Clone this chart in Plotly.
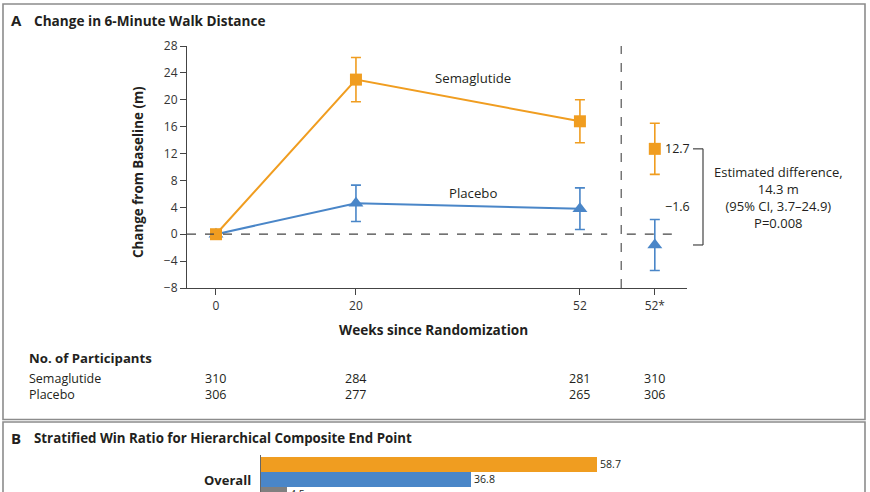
import plotly.graph_objects as go

# ---------------- data ----------------
weeks = [0, 20, 52]
tick_labels = ["0", "20", "52", "52*"]
sema_mean = [0.0, 23.0, 16.8]
sema_err = [0.0, 3.3, 3.2]
plac_mean = [0.0, 4.6, 3.8]
plac_err = [0.0, 2.7, 3.1]
sema_star = 12.7
sema_star_err = 3.8
plac_star = -1.6
plac_star_err = 3.8
n_sema = [310, 284, 281, 310]
n_plac = [306, 277, 265, 306]
y_ticks = [-8, -4, 0, 4, 8, 12, 16, 20, 24, 28]
win_values = [58.7, 36.8, 4.5]
win_labels = ["58.7", "36.8", "4.5"]

# layout helpers
W, H = 870, 492
STAR_POS = 62.7  # axis position of the 52* column

def px(x):
    return x / W

def py(y):
    return 1 - y / H

ORANGE = "#F09D20"
BLUE = "#4A86C8"
GRAY = "#808080"
TXT = "#231F20"
FONT = "Open Sans"

x_all = weeks + [STAR_POS]

fig = go.Figure()

# Placebo line
fig.add_trace(go.Scatter(
    x=weeks, y=plac_mean, mode="lines+markers",
    line=dict(color=BLUE, width=2),
    marker=dict(symbol="triangle-up", size=13, color=BLUE),
    error_y=dict(type="data", array=plac_err, color=BLUE, thickness=1.6, width=5),
    showlegend=False, xaxis="x", yaxis="y"))
# Semaglutide line
fig.add_trace(go.Scatter(
    x=weeks, y=sema_mean, mode="lines+markers",
    line=dict(color=ORANGE, width=2),
    marker=dict(symbol="square", size=12, color=ORANGE),
    error_y=dict(type="data", array=sema_err, color=ORANGE, thickness=1.6, width=5),
    showlegend=False, xaxis="x", yaxis="y"))
# 52* estimates
fig.add_trace(go.Scatter(
    x=[STAR_POS], y=[plac_star], mode="markers",
    marker=dict(symbol="triangle-up", size=13, color=BLUE),
    error_y=dict(type="data", array=[plac_star_err], color=BLUE, thickness=1.6, width=5),
    showlegend=False, xaxis="x", yaxis="y"))
fig.add_trace(go.Scatter(
    x=[STAR_POS], y=[sema_star], mode="markers",
    marker=dict(symbol="square", size=12, color=ORANGE),
    error_y=dict(type="data", array=[sema_star_err], color=ORANGE, thickness=1.6, width=5),
    showlegend=False, xaxis="x", yaxis="y"))

# Panel B bars
bar_colors = [ORANGE, BLUE, GRAY]
bar_pos = [2, 1, 0]
fig.add_trace(go.Bar(
    x=win_values, y=bar_pos, orientation="h", width=0.96,
    marker=dict(color=bar_colors, line=dict(width=0)),
    text=win_labels, textposition="outside", cliponaxis=True,
    textfont=dict(family=FONT, size=12, color=TXT),
    showlegend=False, xaxis="x2", yaxis="y2"))

x0_px, x1_px = 187, 687
y_top_px, y_bot_px = 46, 288

fig.update_layout(
    template="none",
    width=W, height=H, autosize=False,
    margin=dict(l=0, r=0, t=0, b=0, pad=0, autoexpand=False),
    paper_bgcolor="white", plot_bgcolor="white",
    font=dict(family=FONT, size=12, color=TXT),
    xaxis=dict(
        domain=[px(x0_px), px(x1_px)], range=[-4.14, 67.3], automargin=False,
        tickvals=x_all, ticktext=tick_labels,
        showline=True, linecolor="#444", linewidth=1.2,
        ticks="outside", ticklen=6, tickcolor="#444", tickwidth=1.2,
        showgrid=False, zeroline=False,
        tickfont=dict(size=12, color="#333"), anchor="y"),
    yaxis=dict(
        domain=[py(y_bot_px), py(y_top_px)], range=[-8, 28], automargin=False,
        tickvals=y_ticks, ticktext=[str(v).replace("-", "\u2212") for v in y_ticks],
        showline=True, linecolor="#444", linewidth=1.2,
        ticks="outside", ticklen=6, tickcolor="#444", tickwidth=1.2,
        showgrid=False, zeroline=False,
        tickfont=dict(size=12, color="#333"), anchor="x"),
    xaxis2=dict(
        domain=[px(261), px(861)], range=[0, 104.9], automargin=False,
        showline=False, showgrid=False, zeroline=False, showticklabels=False,
        ticks="", anchor="y2"),
    yaxis2=dict(
        domain=[0, py(455)], range=[0.18, 2.623], automargin=False,
        showline=True, linecolor="#666", linewidth=1.2, mirror=False,
        showgrid=False, zeroline=False, showticklabels=False,
        ticks="", anchor="x2"),
    bargap=0,
)

shapes = []
# dashed zero line (two segments)
shapes.append(dict(type="line", xref="x", yref="y", x0=-4.14, x1=55.9, y0=0, y1=0,
                   line=dict(color="#444", width=1.2, dash="dash")))
shapes.append(dict(type="line", xref="x", yref="y", x0=58.7, x1=66.1, y0=0, y1=0,
                   line=dict(color="#444", width=1.2, dash="dash")))
# vertical dashed separator
shapes.append(dict(type="line", xref="x", yref="y", x0=57.9, x1=57.9, y0=-8, y1=28,
                   line=dict(color="#555", width=1.2, dash="dash")))
# bracket
bx0, bx1 = px(693), px(703)
shapes.append(dict(type="line", xref="paper", yref="y", x0=bx0, x1=bx1, y0=sema_star, y1=sema_star,
                   line=dict(color="#444", width=1.2)))
shapes.append(dict(type="line", xref="paper", yref="y", x0=bx0, x1=bx1, y0=plac_star, y1=plac_star,
                   line=dict(color="#444", width=1.2)))
shapes.append(dict(type="line", xref="paper", yref="y", x0=bx1, x1=bx1, y0=plac_star, y1=sema_star,
                   line=dict(color="#444", width=1.2)))
# panel borders
BORDER = "#8C8C8C"
shapes.append(dict(type="rect", xref="paper", yref="paper", x0=px(3), x1=px(865), y0=py(419.5), y1=py(4),
                   line=dict(color=BORDER, width=1.6)))
shapes.append(dict(type="rect", xref="paper", yref="paper", x0=px(3), x1=px(865), y0=py(500), y1=py(422),
                   line=dict(color=BORDER, width=1.6)))
fig.update_layout(shapes=shapes)

ann = []
def text(x, y, s, size=12, bold=False, xanchor="left", yanchor="middle", xref="paper", yref="paper", **kw):
    if bold:
        s = "<b>" + s + "</b>"
    ann.append(dict(x=x, y=y, xref=xref, yref=yref, text=s, showarrow=False,
                    xanchor=xanchor, yanchor=yanchor,
                    font=dict(family=FONT, size=size, color=TXT), **kw))

text(px(9), py(20), "A", size=15, bold=True)
text(px(32), py(20), "Change in 6-Minute Walk Distance", size=13.6, bold=True)
text(px(138), py(172), "Change from Baseline (m)", size=13.4, bold=True, xanchor="center", textangle=-90)
text(px(433), py(329), "Weeks since Randomization", size=13.6, bold=True, xanchor="center")
text(px(473), py(78), "Semaglutide", size=13.2, xanchor="center")
text(px(473), py(193), "Placebo", size=13.2, xanchor="center")
text(STAR_POS, sema_star, "{:.1f}".format(sema_star), xref="x", yref="y", xshift=8, size=12.5)
text(STAR_POS, plac_star, "\u2212{:.1f}".format(abs(plac_star)), xref="x", yref="y", xshift=8, yshift=38, size=12.5)
text(px(778), py(197),
     "Estimated difference,<br>14.3 m<br>(95% CI, 3.7\u201324.9)<br>P=0.008",
     size=13, xanchor="center", align="center")

text(px(27), py(358), "No. of Participants", size=13.2, bold=True)
text(px(27), py(378), "Semaglutide", size=12.5)
text(px(27), py(394), "Placebo", size=12.5)
for xv, a, b in zip(x_all, n_sema, n_plac):
    text(xv, py(378), str(a), xref="x", xanchor="center", size=12.5)
    text(xv, py(394), str(b), xref="x", xanchor="center", size=12.5)

text(px(9), py(438), "B", size=15, bold=True)
text(px(32), py(438), "Stratified Win Ratio for Hierarchical Composite End Point", size=13.3, bold=True)
text(px(253), py(480), "Overall", size=13, bold=True, xanchor="right")

fig.update_layout(annotations=ann)
post = (
    "document.body.style.margin='0';document.body.style.padding='0';"
    "document.body.style.overflow='hidden';"
)
fig.write_html("out.html", config={"displayModeBar": False}, post_script=post)
